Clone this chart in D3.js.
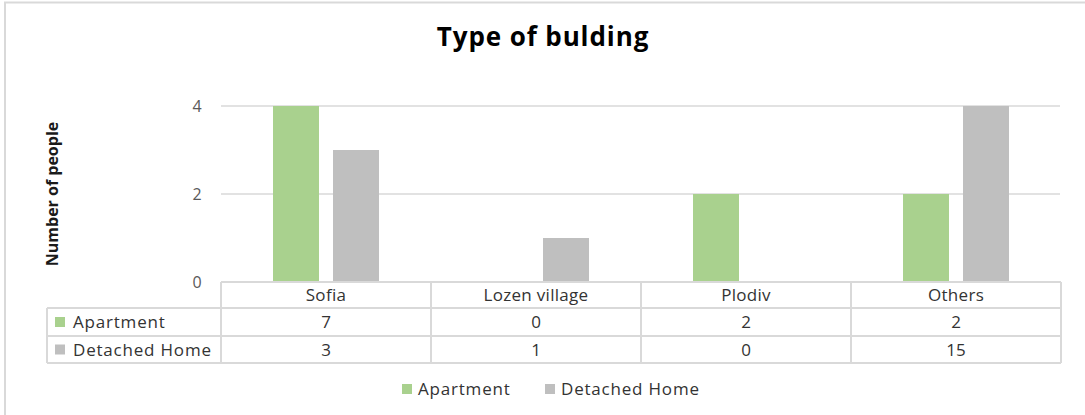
<!DOCTYPE html>
<html>
<head>
<meta charset="utf-8">
<script src="https://cdn.jsdelivr.net/npm/d3@7"></script>
<style>
  body { margin: 0; background: #fff; }
  svg text { font-family: "Open Sans", "Noto Sans", sans-serif; }
</style>
</head>
<body>
<script>
// chart data
const categories = ["Sofia", "Lozen village", "Plodiv", "Others"];
const seriesNames = ["Apartment", "Detached Home"];
const apartment = [7, 0, 2, 2];
const detachedHome = [3, 1, 0, 15];
const yTicks = [0, 2, 4];
const colors = ["#a9d18e", "#bfbfbf"];

const w = 1085;
const h = 415;
const plotLeft = 221, plotRight = 1061;
const plotTop = 106, base = 282;
const rowH = [26, 28, 27];

const svg = d3.select("body")
  .append("svg")
  .attr("width", w)
  .attr("height", h);

// chart frame
svg.append("rect")
  .attr("x", 5).attr("y", 2.5)
  .attr("width", 1090).attr("height", 430)
  .attr("fill", "none")
  .attr("stroke", "#d9d9d9")
  .attr("stroke-width", 2);

// title
svg.append("text")
  .attr("x", 543).attr("y", 46)
  .attr("text-anchor", "middle")
  .attr("font-size", 26)
  .attr("font-weight", "bold")
  .attr("letter-spacing", 0.9)
  .attr("fill", "#000")
  .text("Type of bulding");

// scales
const x0 = d3.scaleBand().domain(categories).range([plotLeft, plotRight]);
const x1 = d3.scaleBand().domain(seriesNames).range([0, 106]).paddingInner(0.2333);
const y = d3.scaleLinear().domain([0, 4]).range([base, plotTop]).clamp(true);

// gridlines
svg.append("g")
  .selectAll("line")
  .data(yTicks.filter(d => d > 0))
  .enter()
  .append("line")
  .attr("x1", plotLeft).attr("x2", plotRight - 1)
  .attr("y1", d => y(d)).attr("y2", d => y(d))
  .attr("stroke", "#d9d9d9")
  .attr("stroke-width", 1.5);

// y tick labels
svg.append("g")
  .selectAll("text")
  .data(yTicks)
  .enter()
  .append("text")
  .attr("x", 197)
  .attr("y", d => y(d))
  .attr("dy", "0.35em")
  .attr("text-anchor", "middle")
  .attr("font-size", 16)
  .attr("fill", "#595959")
  .text(d => d);

// y axis title
svg.append("text")
  .attr("transform", "translate(58,194) rotate(-90)")
  .attr("text-anchor", "middle")
  .attr("font-size", 16)
  .attr("font-weight", "bold")
  .attr("fill", "#1a1a1a")
  .text("Number of people");

// bars
const series = [apartment, detachedHome];
const groups = svg.append("g")
  .selectAll("g")
  .data(categories)
  .enter()
  .append("g")
  .attr("transform", d => "translate(" + (x0(d) + x0.bandwidth() / 2 - 53) + ",0)");

groups.selectAll("rect")
  .data((c, i) => seriesNames.map((s, j) => ({ s: s, v: series[j][i], j: j })))
  .enter()
  .append("rect")
  .attr("x", d => x1(d.s))
  .attr("width", x1.bandwidth())
  .attr("y", d => y(d.v))
  .attr("height", d => base - y(d.v))
  .attr("fill", d => colors[d.j]);

// data table
const tableLeft = 47;
const rowY = [base, base + rowH[0], base + rowH[0] + rowH[1], base + rowH[0] + rowH[1] + rowH[2]];
const table = svg.append("g")
  .attr("stroke", "#d9d9d9")
  .attr("stroke-width", 2);

table.append("line").attr("x1", plotLeft).attr("x2", plotRight).attr("y1", rowY[0]).attr("y2", rowY[0]);
[1, 2, 3].forEach(r => {
  table.append("line").attr("x1", tableLeft).attr("x2", plotRight).attr("y1", rowY[r]).attr("y2", rowY[r]);
});
table.append("line").attr("x1", tableLeft).attr("x2", tableLeft).attr("y1", rowY[1]).attr("y2", rowY[3]);
categories.forEach(c => {
  table.append("line").attr("x1", x0(c)).attr("x2", x0(c)).attr("y1", rowY[0]).attr("y2", rowY[3]);
});
table.append("line").attr("x1", plotRight).attr("x2", plotRight).attr("y1", rowY[0]).attr("y2", rowY[3]);

const cellFont = 17;
// header row
svg.append("g")
  .selectAll("text")
  .data(categories)
  .enter()
  .append("text")
  .attr("x", d => x0(d) + x0.bandwidth() / 2)
  .attr("y", (rowY[0] + rowY[1]) / 2)
  .attr("dy", "0.36em")
  .attr("text-anchor", "middle")
  .attr("font-size", cellFont)
  .attr("letter-spacing", 0.3)
  .attr("fill", "#333")
  .text(d => d);

// value rows
series.forEach((vals, j) => {
  const cy = (rowY[j + 1] + rowY[j + 2]) / 2;
  svg.append("g")
    .selectAll("text")
    .data(vals)
    .enter()
    .append("text")
    .attr("x", (d, i) => x0(categories[i]) + x0.bandwidth() / 2)
    .attr("y", cy)
    .attr("dy", "0.36em")
    .attr("text-anchor", "middle")
    .attr("font-size", cellFont)
    .attr("fill", "#333")
    .text(d => d);

  svg.append("rect")
    .attr("x", 55).attr("y", cy - 5)
    .attr("width", 10).attr("height", 10)
    .attr("fill", colors[j]);
  svg.append("text")
    .attr("x", 73).attr("y", cy)
    .attr("dy", "0.36em")
    .attr("font-size", cellFont)
    .attr("letter-spacing", 0.8)
    .attr("fill", "#333")
    .text(seriesNames[j]);
});

// legend
const legendX = [402, 545];
const legend = svg.append("g")
  .selectAll("g")
  .data(seriesNames)
  .enter()
  .append("g")
  .attr("transform", (d, i) => "translate(" + legendX[i] + ",389)");
legend.append("rect")
  .attr("x", 0).attr("y", -5)
  .attr("width", 10).attr("height", 10)
  .attr("fill", (d, i) => colors[i]);
legend.append("text")
  .attr("x", 16)
  .attr("dy", "0.36em")
  .attr("font-size", cellFont)
  .attr("letter-spacing", 0.8)
  .attr("fill", "#333")
  .text(d => d);
</script>
</body>
</html>
